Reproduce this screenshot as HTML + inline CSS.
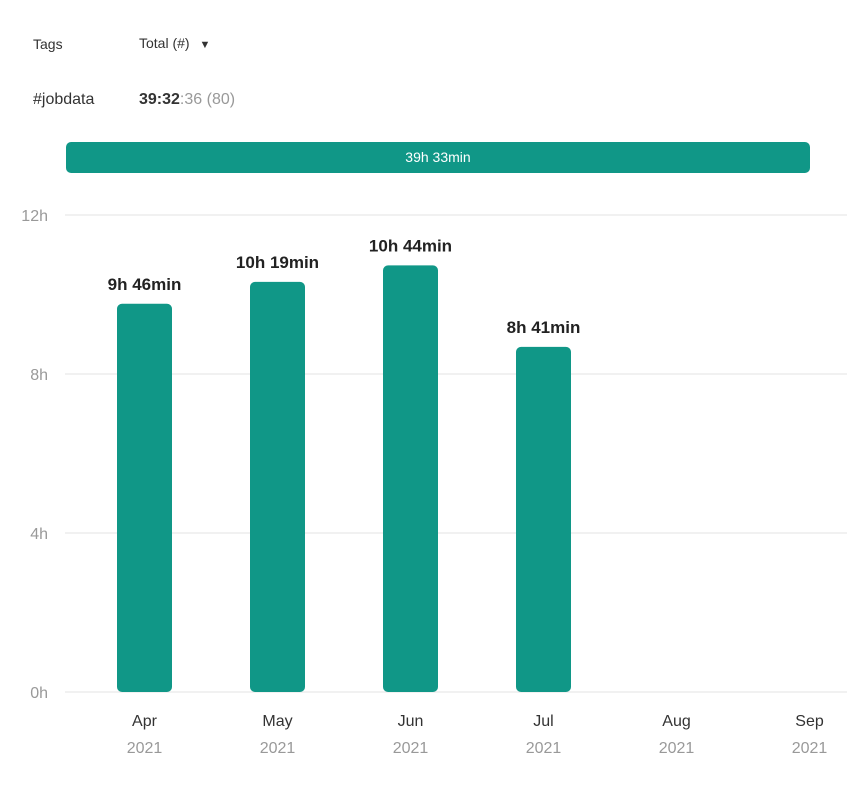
<!DOCTYPE html>
<html><head><meta charset="utf-8">
<style>
body{margin:0;width:847px;height:791px;background:#fff;font-family:"Liberation Sans",sans-serif;position:relative;overflow:hidden}
.t{position:absolute;white-space:nowrap}
</style></head><body>
<div class="t" style="left:33px;top:36px;font-size:14px;color:#333">Tags</div>
<div class="t" style="left:139px;top:35px;font-size:14px;color:#333">Total (#) <span style="font-size:11px;margin-left:6px">▼</span></div>
<div class="t" style="left:33px;top:91px;font-size:16px;color:#333">#jobdata</div>
<div class="t" style="left:139px;top:91px;font-size:16px;color:#333"><b>39:32</b><span style="color:#999">:36 (80)</span></div>
<div class="t" style="left:66px;top:142px;width:744px;height:31px;background:#109787;border-radius:5px;color:#fff;font-size:14px;text-align:center;line-height:31px">39h 33min</div>
<svg id="c" width="847" height="791" style="position:absolute;left:0;top:0"></svg>
<script>
const categories=["Apr","May","Jun","Jul","Aug","Sep"];
const years=["2021","2021","2021","2021","2021","2021"];
const values=[9.767,10.317,10.733,8.683,0,0];
const valueLabels=["9h 46min","10h 19min","10h 44min","8h 41min","",""];
const ticks=[0,4,8,12];
const tickLabels=["0h","4h","8h","12h"];
const NS="http://www.w3.org/2000/svg",svg=document.getElementById('c');
const y=v=>692-v*39.75, x=i=>144.5+i*133;
function mk(tag,attrs,text){const e=document.createElementNS(NS,tag);for(const k in attrs)e.setAttribute(k,attrs[k]);if(text!==undefined)e.textContent=text;svg.appendChild(e);return e;}
ticks.forEach((t,i)=>{
 const g=mk('line',{x1:65,x2:847,y1:y(t),y2:y(t),stroke:'#e3e3e3','stroke-width':1});
 
 
 const l=mk('text',{x:48,y:y(t)+6,'text-anchor':'end','font-size':16,fill:'#999','font-family':'Liberation Sans'},tickLabels[i]);
 
 
});
categories.forEach((c,i)=>{
 if(values[i]>0){
  const h=values[i]*39.75;
  const b=mk('rect',{x:x(i)-27.5,y:y(values[i]),width:55,height:h,rx:5,fill:'#109787'});
  
  
  const v=mk('text',{x:x(i),y:y(values[i])-14,'text-anchor':'middle','font-size':17,'font-weight':'bold',fill:'#222','font-family':'Liberation Sans'},valueLabels[i]);
  
  
 }
 const m=mk('text',{x:x(i),y:726,'text-anchor':'middle','font-size':16,fill:'#333','font-family':'Liberation Sans'},c);
 
 
 const yr=mk('text',{x:x(i),y:753,'text-anchor':'middle','font-size':16,fill:'#999','font-family':'Liberation Sans'},years[i]);
 
 
});
</script>
</body></html>
